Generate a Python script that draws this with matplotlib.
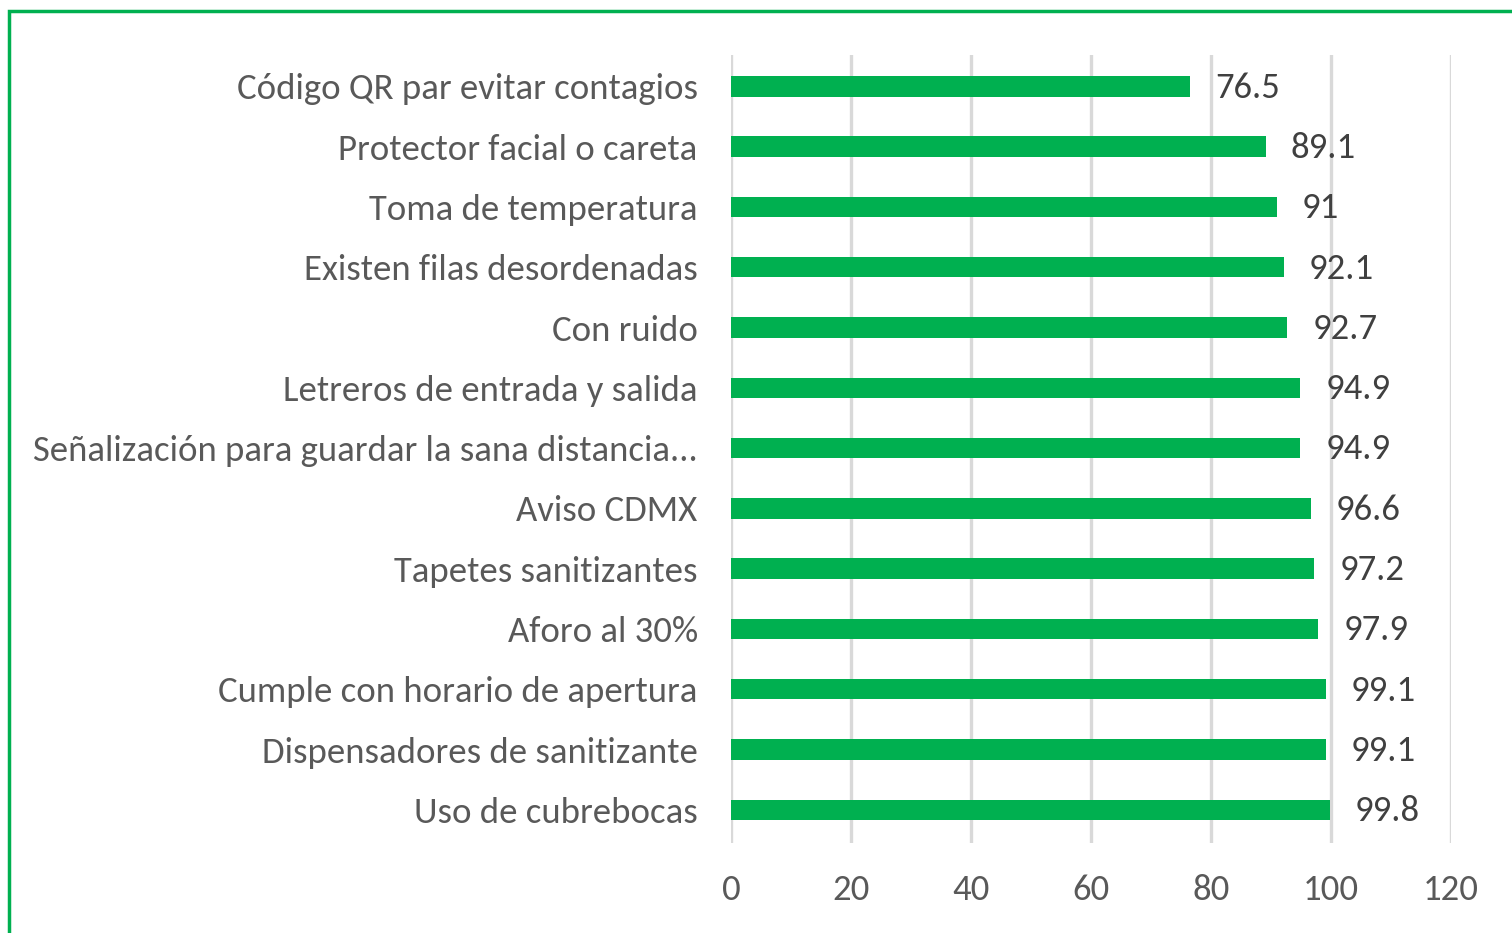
import matplotlib.pyplot as plt
from matplotlib.patches import Rectangle

categorias = ['Código QR par evitar contagios', 'Protector facial o careta',
              'Toma de temperatura', 'Existen filas desordenadas', 'Con ruido',
              'Letreros de entrada y salida',
              'Señalización para guardar la sana distancia...', 'Aviso CDMX',
              'Tapetes sanitizantes', 'Aforo al 30%',
              'Cumple con horario de apertura', 'Dispensadores de sanitizante',
              'Uso de cubrebocas']
valores = [76.5, 89.1, 91, 92.1, 92.7, 94.9, 94.9, 96.6, 97.2, 97.9, 99.1, 99.1, 99.8]
etiquetas = ['76.5', '89.1', '91', '92.1', '92.7', '94.9', '94.9', '96.6',
             '97.2', '97.9', '99.1', '99.1', '99.8']
xticks = [0, 20, 40, 60, 80, 100, 120]

verde = '#00B050'
gris = '#595959'
plt.rcParams['font.family'] = ['Carlito', 'Liberation Sans Narrow', 'DejaVu Sans']

fig = plt.figure(figsize=(15.12, 9.33), dpi=100)
ax = fig.add_axes([0.4835, 0.0965, 0.4762, 0.8445])

pos = list(range(len(categorias)))
ax.barh(pos, valores, height=0.34, color=verde, zorder=3)
for p, v, t in zip(pos, valores, etiquetas):
    ax.annotate(t, (v, p), xytext=(18, -1), textcoords='offset points',
                va='center', ha='left', fontsize=26.5, color='#404040')

ax.set_xlim(0, 120)
ax.set_ylim(len(categorias) - 0.45, -0.52)
ax.set_xticks(xticks)
ax.set_yticks(pos)
ax.set_yticklabels(categorias)
ax.tick_params(axis='y', length=0, pad=24, labelsize=26.5, labelcolor=gris)
ax.tick_params(axis='x', length=0, pad=22, labelsize=26.5, labelcolor=gris)
ax.grid(axis='x', color='#D9D9D9', linewidth=2.4, zorder=0)
for s in ax.spines.values():
    s.set_visible(False)

# marco verde (solo se ven arriba y a la izquierda)
fig.patches.append(Rectangle((9 / 1512, -0.05), 1.2, 1 - 11 / 933 + 0.05,
                             transform=fig.transFigure, fill=False,
                             edgecolor=verde, linewidth=2.5))

fig.savefig('out.png', dpi=100)
